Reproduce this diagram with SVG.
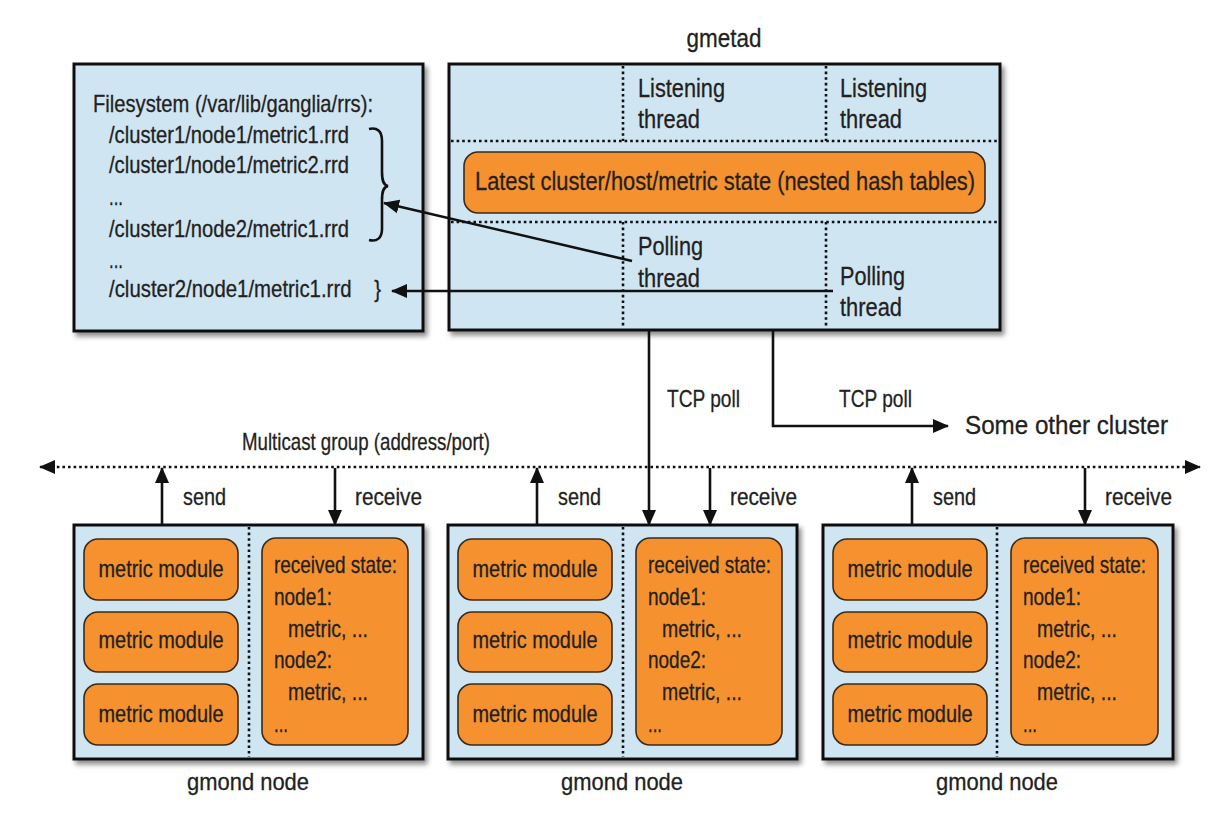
<svg xmlns="http://www.w3.org/2000/svg" width="1208" height="829" viewBox="0 0 1208 829">
<defs>
<filter id="sh" x="-5%" y="-5%" width="115%" height="115%">
<feDropShadow dx="3" dy="4" stdDeviation="2.5" flood-color="#000" flood-opacity="0.45"/>
</filter>
<marker id="ah" markerUnits="userSpaceOnUse" markerWidth="16" markerHeight="16" viewBox="0 0 16 16" refX="15" refY="8" orient="auto-start-reverse">
<path d="M0,1 L16,8 L0,15 z" fill="#111"/>
</marker>
</defs>
<style>
text{font-family:"Liberation Sans Narrow","Liberation Sans",Arial,sans-serif;fill:#231f20;font-size:24px;stroke:#231f20;stroke-width:0.3}
.box{fill:#d0e5f2;stroke:#111;stroke-width:3;filter:url(#sh)}
.org{fill:#f5922f;stroke:#3a2a1a;stroke-width:1.6}
.dot{stroke:#111;stroke-width:2.6;stroke-dasharray:2.6 3;fill:none}
.ln{stroke:#111;stroke-width:2.6;fill:none}
.big{font-size:26px}
.mid{text-anchor:middle}
</style>
<rect width="1208" height="829" fill="#fff"/>

<g id="filesystem">
<rect class="box" x="74" y="64" width="349" height="267"/>
<text x="93" y="112" textLength="280" lengthAdjust="spacingAndGlyphs">Filesystem (/var/lib/ganglia/rrs):</text>
<text x="109" y="143" textLength="240" lengthAdjust="spacingAndGlyphs">/cluster1/node1/metric1.rrd</text>
<text x="109" y="173" textLength="240" lengthAdjust="spacingAndGlyphs">/cluster1/node1/metric2.rrd</text>
<text x="109" y="205" textLength="14" lengthAdjust="spacingAndGlyphs">...</text>
<text x="109" y="237" textLength="240" lengthAdjust="spacingAndGlyphs">/cluster1/node2/metric1.rrd</text>
<text x="109" y="268" textLength="14" lengthAdjust="spacingAndGlyphs">...</text>
<text x="109" y="297" textLength="272" lengthAdjust="spacingAndGlyphs">/cluster2/node1/metric1.rrd&#160;&#160;&#160;&#160;}</text>
<path class="ln" d="M369,129 C377,127 382,131 382,141 L382,172 C382,180 383,185 388,186 C383,187 382,192 382,200 L382,229 C382,238 377,242 369,240"/>
</g>

<g id="gmetad">
<text class="big mid" x="724" y="47" textLength="75" lengthAdjust="spacingAndGlyphs">gmetad</text>
<rect class="box" x="449" y="64" width="551" height="266"/>
<line class="dot" x1="451" y1="141" x2="998" y2="141"/>
<line class="dot" x1="451" y1="222" x2="998" y2="222"/>
<line class="dot" x1="623" y1="66" x2="623" y2="141"/>
<line class="dot" x1="826" y1="66" x2="826" y2="141"/>
<line class="dot" x1="623" y1="222" x2="623" y2="328"/>
<line class="dot" x1="826" y1="222" x2="826" y2="328"/>
<text class="big" x="638" y="97" textLength="87" lengthAdjust="spacingAndGlyphs">Listening</text>
<text class="big" x="638" y="128" textLength="62" lengthAdjust="spacingAndGlyphs">thread</text>
<text class="big" x="840" y="97" textLength="87" lengthAdjust="spacingAndGlyphs">Listening</text>
<text class="big" x="840" y="128" textLength="62" lengthAdjust="spacingAndGlyphs">thread</text>
<rect class="org" x="464" y="152" width="521" height="61" rx="14"/>
<text class="big" x="475" y="190" textLength="500" lengthAdjust="spacingAndGlyphs">Latest cluster/host/metric state (nested hash tables)</text>
<text class="big" x="638" y="255" textLength="65" lengthAdjust="spacingAndGlyphs">Polling</text>
<text class="big" x="638" y="287" textLength="62" lengthAdjust="spacingAndGlyphs">thread</text>
<text class="big" x="840" y="285" textLength="65" lengthAdjust="spacingAndGlyphs">Polling</text>
<text class="big" x="840" y="316" textLength="62" lengthAdjust="spacingAndGlyphs">thread</text>
</g>

<g id="gmond1">
<rect class="box" x="74" y="525" width="349" height="234"/>
<line class="dot" x1="249" y1="527" x2="249" y2="757"/>
<rect class="org" x="84" y="539" width="154" height="61" rx="14"/>
<rect class="org" x="84" y="612" width="154" height="60" rx="14"/>
<rect class="org" x="84" y="684" width="154" height="61" rx="14"/>
<text class="mid" x="161" y="577" textLength="125" lengthAdjust="spacingAndGlyphs">metric module</text>
<text class="mid" x="161" y="648" textLength="125" lengthAdjust="spacingAndGlyphs">metric module</text>
<text class="mid" x="161" y="722" textLength="125" lengthAdjust="spacingAndGlyphs">metric module</text>
<rect class="org" x="262" y="538" width="146" height="207" rx="14"/>
<text x="274" y="573" textLength="123" lengthAdjust="spacingAndGlyphs">received state:</text>
<text x="274" y="605" textLength="58" lengthAdjust="spacingAndGlyphs">node1:</text>
<text x="288" y="637" textLength="80" lengthAdjust="spacingAndGlyphs">metric, ...</text>
<text x="274" y="668" textLength="58" lengthAdjust="spacingAndGlyphs">node2:</text>
<text x="288" y="700" textLength="80" lengthAdjust="spacingAndGlyphs">metric, ...</text>
<text x="274" y="732" textLength="14" lengthAdjust="spacingAndGlyphs">...</text>
<text class="mid" x="248" y="790" textLength="122" lengthAdjust="spacingAndGlyphs">gmond node</text>
</g>

<g id="gmond2" transform="translate(374,0)">
<rect class="box" x="74" y="525" width="349" height="234"/>
<line class="dot" x1="249" y1="527" x2="249" y2="757"/>
<rect class="org" x="84" y="539" width="154" height="61" rx="14"/>
<rect class="org" x="84" y="612" width="154" height="60" rx="14"/>
<rect class="org" x="84" y="684" width="154" height="61" rx="14"/>
<text class="mid" x="161" y="577" textLength="125" lengthAdjust="spacingAndGlyphs">metric module</text>
<text class="mid" x="161" y="648" textLength="125" lengthAdjust="spacingAndGlyphs">metric module</text>
<text class="mid" x="161" y="722" textLength="125" lengthAdjust="spacingAndGlyphs">metric module</text>
<rect class="org" x="262" y="538" width="146" height="207" rx="14"/>
<text x="274" y="573" textLength="123" lengthAdjust="spacingAndGlyphs">received state:</text>
<text x="274" y="605" textLength="58" lengthAdjust="spacingAndGlyphs">node1:</text>
<text x="288" y="637" textLength="80" lengthAdjust="spacingAndGlyphs">metric, ...</text>
<text x="274" y="668" textLength="58" lengthAdjust="spacingAndGlyphs">node2:</text>
<text x="288" y="700" textLength="80" lengthAdjust="spacingAndGlyphs">metric, ...</text>
<text x="274" y="732" textLength="14" lengthAdjust="spacingAndGlyphs">...</text>
<text class="mid" x="248" y="790" textLength="122" lengthAdjust="spacingAndGlyphs">gmond node</text>
</g>

<g id="gmond3" transform="translate(749,0)">
<rect class="box" x="74" y="525" width="350" height="234"/>
<line class="dot" x1="248" y1="527" x2="248" y2="757"/>
<rect class="org" x="84" y="539" width="154" height="61" rx="14"/>
<rect class="org" x="84" y="612" width="154" height="60" rx="14"/>
<rect class="org" x="84" y="684" width="154" height="61" rx="14"/>
<text class="mid" x="161" y="577" textLength="125" lengthAdjust="spacingAndGlyphs">metric module</text>
<text class="mid" x="161" y="648" textLength="125" lengthAdjust="spacingAndGlyphs">metric module</text>
<text class="mid" x="161" y="722" textLength="125" lengthAdjust="spacingAndGlyphs">metric module</text>
<rect class="org" x="262" y="538" width="147" height="207" rx="14"/>
<text x="274" y="573" textLength="123" lengthAdjust="spacingAndGlyphs">received state:</text>
<text x="274" y="605" textLength="58" lengthAdjust="spacingAndGlyphs">node1:</text>
<text x="288" y="637" textLength="80" lengthAdjust="spacingAndGlyphs">metric, ...</text>
<text x="274" y="668" textLength="58" lengthAdjust="spacingAndGlyphs">node2:</text>
<text x="288" y="700" textLength="80" lengthAdjust="spacingAndGlyphs">metric, ...</text>
<text x="274" y="732" textLength="14" lengthAdjust="spacingAndGlyphs">...</text>
<text class="mid" x="248" y="790" textLength="122" lengthAdjust="spacingAndGlyphs">gmond node</text>
</g>

<g id="other-cluster">
<text class="big" x="965" y="434" textLength="203" lengthAdjust="spacingAndGlyphs">Some other cluster</text>
</g>

<g id="connectors">
<line class="ln" x1="632" y1="261" x2="384" y2="203" marker-end="url(#ah)"/>
<line class="ln" x1="833" y1="291" x2="392" y2="291" marker-end="url(#ah)"/>
<line class="ln" x1="649" y1="330" x2="649" y2="525" marker-end="url(#ah)"/>
<polyline class="ln" points="773,330 773,426 948,426" marker-end="url(#ah)"/>
<text x="667" y="407" textLength="73" lengthAdjust="spacingAndGlyphs">TCP poll</text>
<text x="839" y="407" textLength="73" lengthAdjust="spacingAndGlyphs">TCP poll</text>
<line class="dot" x1="40" y1="467" x2="1200" y2="467" marker-start="url(#ah)" marker-end="url(#ah)"/>
<text x="242" y="450" textLength="248" lengthAdjust="spacingAndGlyphs">Multicast group (address/port)</text>
<line class="ln" x1="162" y1="525" x2="162" y2="468" marker-end="url(#ah)"/>
<line class="ln" x1="335" y1="468" x2="335" y2="525" marker-end="url(#ah)"/>
<line class="ln" x1="537" y1="525" x2="537" y2="468" marker-end="url(#ah)"/>
<line class="ln" x1="710" y1="468" x2="710" y2="525" marker-end="url(#ah)"/>
<line class="ln" x1="912" y1="525" x2="912" y2="468" marker-end="url(#ah)"/>
<line class="ln" x1="1085" y1="468" x2="1085" y2="525" marker-end="url(#ah)"/>
<text x="183" y="505" textLength="43" lengthAdjust="spacingAndGlyphs">send</text>
<text x="355" y="505" textLength="67" lengthAdjust="spacingAndGlyphs">receive</text>
<text x="558" y="505" textLength="43" lengthAdjust="spacingAndGlyphs">send</text>
<text x="730" y="505" textLength="67" lengthAdjust="spacingAndGlyphs">receive</text>
<text x="933" y="505" textLength="43" lengthAdjust="spacingAndGlyphs">send</text>
<text x="1105" y="505" textLength="67" lengthAdjust="spacingAndGlyphs">receive</text>
</g>
</svg>
